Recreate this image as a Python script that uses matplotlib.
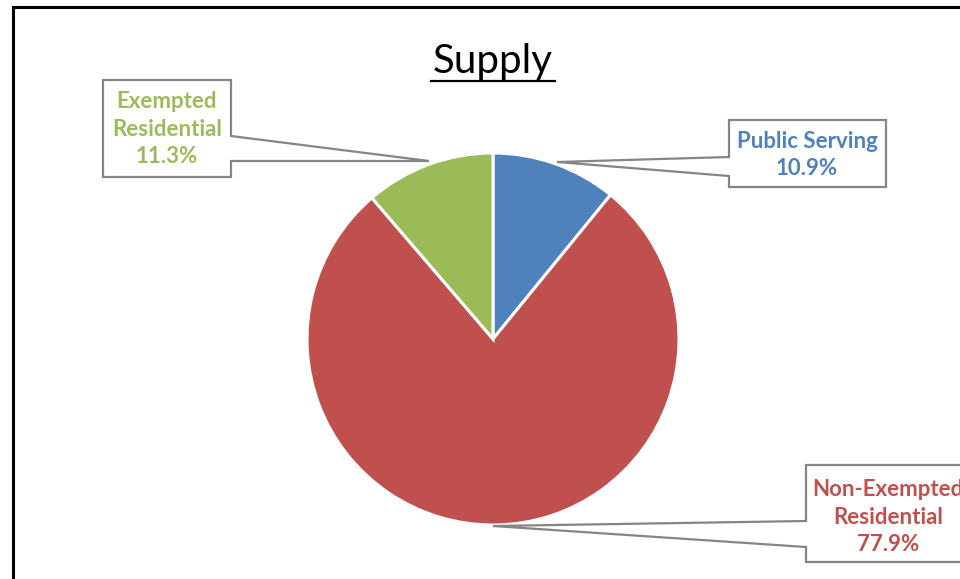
import matplotlib
matplotlib.use("Agg")
import matplotlib.pyplot as plt
from matplotlib.patches import Polygon, Rectangle
from matplotlib.lines import Line2D

# ---- data ----
categories = ["Public Serving", "Non-Exempted\nResidential", "Exempted\nResidential"]
values = [10.9, 77.9, 11.3]
colors = ["#4F81BD", "#C0504D", "#9BBB59"]
title = "Supply"

W, H = 960, 579
FONT = ["Lato", "DejaVu Sans"]

fig = plt.figure(figsize=(W / 100, H / 100), dpi=100)
ax = fig.add_axes([0, 0, 1, 1])
ax.set_xlim(0, W)
ax.set_ylim(0, H)
ax.set_aspect("equal")
ax.axis("off")

def Y(y):
    return H - y

# outer chart frame (extends beyond the image at right/bottom)
ax.add_patch(Rectangle((13, Y(1000)), 2000, 1000 - 7, fill=False,
                       edgecolor="black", linewidth=2.2, zorder=1))

# pie
cx, cy, r = 493, 339, 186
ax.pie(values, colors=colors, startangle=90, counterclock=False,
       center=(cx, Y(cy)), radius=r, normalize=True,
       wedgeprops=dict(edgecolor="white", linewidth=2.2), frame=True)
ax.set_xlim(0, W)
ax.set_ylim(0, H)
ax.axis("off")

# callout boxes: (box x0, y0, x1, y1, notch side, notch a, notch b, tip)
callouts = [
    dict(box=(729, 120, 886, 187), side="left", na=157, nb=176, tip=(557, 162),
         text_xy=(807, 155)),
    dict(box=(806, 465, 1100, 562), side="left", na=521, nb=547, tip=(493, 526),
         text_xy=(888, 517)),
    dict(box=(103, 80, 231, 177), side="right", na=136, nb=161, tip=(429, 161),
         text_xy=(167, 129)),
]

for cat, val, col, co in zip(categories, values, colors, callouts):
    x0, y0, x1, y1 = co["box"]
    tx, ty = co["tip"]
    if co["side"] == "left":
        pts = [(x0, y0), (x1, y0), (x1, y1), (x0, y1), (x0, co["nb"]),
               (tx, ty), (x0, co["na"])]
    else:
        pts = [(x0, y0), (x1, y0), (x1, co["na"]), (tx, ty), (x1, co["nb"]),
               (x1, y1), (x0, y1)]
    pts = [(px, Y(py)) for px, py in pts]
    ax.add_patch(Polygon(pts, closed=True, facecolor="white", edgecolor="#858585",
                         linewidth=1.6, zorder=3, clip_on=False))
    ax.text(co["text_xy"][0], Y(co["text_xy"][1]), f"{cat}\n{val:.1f}%",
            ha="center", va="center", color=col, fontsize=16, fontweight="bold",
            family=FONT, linespacing=1.4, zorder=4)

# title with underline
t = ax.text(493, Y(62), title, ha="center", va="center", fontsize=29,
            family=FONT, color="black", zorder=4)
fig.canvas.draw()
bb = t.get_window_extent()
ax.add_line(Line2D([bb.x0 - 2, bb.x1 + 2], [Y(81), Y(81)], color="black",
                   linewidth=1.6, zorder=4))

fig.savefig("out.png", dpi=100)
